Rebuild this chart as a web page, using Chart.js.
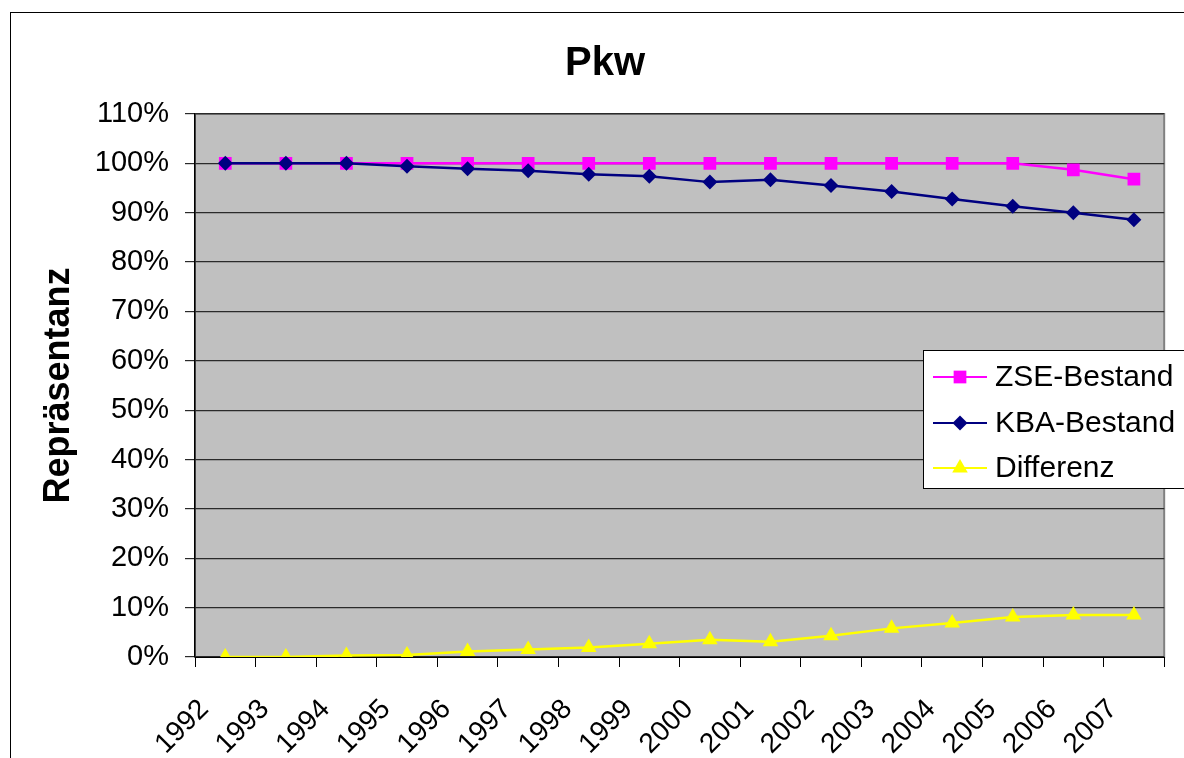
<!DOCTYPE html>
<html>
<head>
<meta charset="utf-8">
<script src="https://cdn.jsdelivr.net/npm/chart.js"></script>
<style>
  html, body { margin: 0; padding: 0; background: #fff; }
  #wrap { width: 1184px; height: 758px; position: relative; }
</style>
</head>
<body>
<div id="wrap"><canvas id="pkw-chart"></canvas></div>
<script>
    // Werte (in %)
    const years = ['1992', '1993', '1994', '1995', '1996', '1997', '1998', '1999',
                   '2000', '2001', '2002', '2003', '2004', '2005', '2006', '2007'];
    const zseBestand = [100, 100, 100, 100, 100, 100, 100, 100, 100, 100, 100, 100, 100, 100, 98.7, 96.8];
    const kbaBestand = [100, 100, 100, 99.4, 98.9, 98.5, 97.8, 97.4, 96.2, 96.7, 95.5, 94.3, 92.8, 91.3, 90.0, 88.6];
    const differenz = [0, 0, 0.3, 0.4, 1.1, 1.5, 1.9, 2.7, 3.5, 3.1, 4.3, 5.8, 6.9, 8.1, 8.5, 8.5];
    const yMin = 0, yMax = 110, yStep = 10;

    const FONT = '"Liberation Sans", Arial, sans-serif';
    Chart.defaults.font.family = FONT;
    Chart.defaults.color = '#000';

    // Rahmen und grauer Zeichenbereich
    const backgroundPlugin = {
        id: 'plotBackground',
        beforeDraw(chart) {
            const { ctx, chartArea: a } = chart;
            ctx.save();
            ctx.fillStyle = '#fff';
            ctx.fillRect(0, 0, chart.width, chart.height);
            ctx.strokeStyle = '#000';
            ctx.lineWidth = 1;
            ctx.strokeRect(10.5, 12.5, 1400, 1000);
            ctx.fillStyle = '#c0c0c0';
            ctx.fillRect(a.left, a.top, a.right - a.left, a.bottom - a.top);
            ctx.strokeStyle = '#808080';
            ctx.lineWidth = 2;
            ctx.strokeRect(a.left, a.top, a.right - a.left, a.bottom - a.top);
            ctx.restore();
        }
    };

    function drawMarker(ctx, style, x, y, r) {
        ctx.beginPath();
        if (style === 'rect') {
            const s = r * Math.SQRT1_2;
            ctx.rect(x - s, y - s, 2 * s, 2 * s);
        } else if (style === 'rectRot') {
            ctx.moveTo(x, y - r);
            ctx.lineTo(x + r, y);
            ctx.lineTo(x, y + r);
            ctx.lineTo(x - r, y);
            ctx.closePath();
        } else {
            ctx.moveTo(x, y - r);
            ctx.lineTo(x + r * 0.866, y + r / 2);
            ctx.lineTo(x - r * 0.866, y + r / 2);
            ctx.closePath();
        }
        ctx.fill();
    }

    // Legende rechts im Diagramm
    const legendPlugin = {
        id: 'boxLegend',
        afterDraw(chart) {
            const ctx = chart.ctx;
            ctx.save();
            ctx.fillStyle = '#fff';
            ctx.fillRect(923.5, 350.5, 400, 138);
            ctx.strokeStyle = '#000';
            ctx.lineWidth = 1;
            ctx.strokeRect(923.5, 350.5, 400, 138);
            const rows = [377, 423, 468];
            chart.data.datasets.forEach((ds, i) => {
                const y = rows[i];
                ctx.strokeStyle = ds.borderColor;
                ctx.lineWidth = 2;
                ctx.beginPath();
                ctx.moveTo(933, y);
                ctx.lineTo(987, y);
                ctx.stroke();
                ctx.fillStyle = ds.pointBackgroundColor;
                drawMarker(ctx, ds.pointStyle, 960, y, ds.pointRadius);
                ctx.fillStyle = '#000';
                ctx.font = '30px ' + FONT;
                ctx.textBaseline = 'middle';
                ctx.fillText(ds.label, 995, y + 1);
            });
            ctx.restore();
        }
    };

    const ctx = document.getElementById('pkw-chart').getContext('2d');
    new Chart(ctx, {
        type: 'line',
        data: {
            labels: years,
            datasets: [{
                label: 'ZSE-Bestand',
                data: zseBestand,
                borderColor: '#ff00ff',
                backgroundColor: '#ff00ff',
                pointBackgroundColor: '#ff00ff',
                pointBorderColor: '#ff00ff',
                pointStyle: 'rect',
                pointRadius: 9,
                borderWidth: 2.5,
                pointBorderWidth: 0,
                tension: 0,
                order: 1
            }, {
                label: 'KBA-Bestand',
                data: kbaBestand,
                borderColor: '#000080',
                backgroundColor: '#000080',
                pointBackgroundColor: '#000080',
                pointBorderColor: '#000080',
                pointStyle: 'rectRot',
                pointRadius: 7.5,
                borderWidth: 2.5,
                pointBorderWidth: 0,
                tension: 0,
                order: 0
            }, {
                label: 'Differenz',
                data: differenz,
                borderColor: '#ffff00',
                backgroundColor: '#ffff00',
                pointBackgroundColor: '#ffff00',
                pointBorderColor: '#ffff00',
                pointStyle: 'triangle',
                pointRadius: 9,
                borderWidth: 2.5,
                pointBorderWidth: 0,
                tension: 0,
                order: 2
            }]
        },
        options: {
            responsive: true,
            maintainAspectRatio: false,
            animation: false,
            layout: { padding: { left: 37, right: 11, top: 0, bottom: 0 } },
            plugins: {
                legend: { display: false },
                tooltip: { enabled: false },
                title: {
                    display: true,
                    text: 'Pkw',
                    color: '#000',
                    font: { size: 40, weight: 'bold', lineHeight: 1.2 },
                    padding: { top: 40, bottom: 26 }
                }
            },
            scales: {
                x: {
                    offset: true,
                    grid: {
                        offset: true,
                        drawOnChartArea: false,
                        drawTicks: true,
                        tickLength: 10,
                        color: '#000'
                    },
                    border: { color: '#000', width: 1 },
                    ticks: {
                        font: { size: 28 },
                        color: '#000',
                        minRotation: 45,
                        maxRotation: 45,
                        padding: 26,
                        labelOffset: -21,
                        autoSkip: false
                    },
                    afterFit(scale) { scale.height = 101; }
                },
                y: {
                    min: yMin,
                    max: yMax,
                    ticks: {
                        stepSize: yStep,
                        font: { size: 29 },
                        color: '#000',
                        padding: 16,
                        callback: v => v + '%'
                    },
                    grid: { color: '#2a2a2a', lineWidth: 1.2, tickLength: 10 },
                    border: { color: '#000', width: 1.5 },
                    title: {
                        display: true,
                        text: 'Repräsentanz',
                        color: '#000',
                        font: { size: 36, weight: 'bold', lineHeight: 1.2 },
                        padding: { top: 0, bottom: 0 }
                    },
                    afterFit(scale) { scale.width = 158; }
                }
            }
        },
        plugins: [backgroundPlugin, legendPlugin]
    });
</script>
</body>
</html>
